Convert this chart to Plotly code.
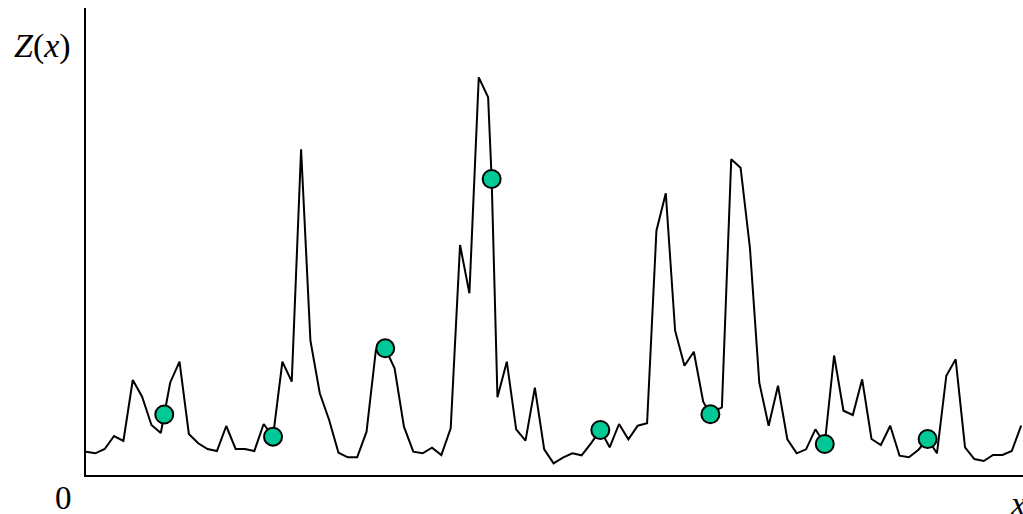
import plotly.graph_objects as go

# Sampled field Z(x) on a regular grid x = 0, 1, ..., 100
z_grid = [
    0.233, 0.217, 0.260, 0.390, 0.340, 0.950, 0.783, 0.500, 0.420, 0.923,
    1.133, 0.410, 0.317, 0.260, 0.240, 0.490, 0.260, 0.260, 0.240, 0.510,
    0.383, 1.133, 0.933, 3.257, 1.343, 0.817, 0.550, 0.223, 0.177, 0.177,
    0.433, 1.250, 1.267, 1.067, 0.483, 0.233, 0.217, 0.273, 0.200, 0.467,
    2.300, 1.817, 3.977, 3.777, 0.777, 1.133, 0.457, 0.343, 0.873, 0.257,
    0.117, 0.173, 0.217, 0.197, 0.317, 0.450, 0.277, 0.510, 0.357, 0.493,
    0.517, 2.443, 2.817, 1.443, 1.093, 1.233, 0.733, 0.630, 0.677, 3.157,
    3.073, 2.270, 0.923, 0.493, 0.893, 0.357, 0.217, 0.257, 0.457, 0.310,
    1.195, 0.643, 0.600, 0.957, 0.360, 0.300, 0.493, 0.193, 0.177, 0.250,
    0.360, 0.217, 0.993, 1.157, 0.277, 0.160, 0.140, 0.200, 0.200, 0.240,
    0.493,
]
x_grid = list(range(len(z_grid)))

# Observed points (lie on the field)
x_obs = [8.37, 20.0, 32.0, 43.38, 55.0, 66.77, 79.0, 90.0]
z_obs = [0.605, 0.383, 1.267, 2.960, 0.450, 0.607, 0.310, 0.360]

# The drawn path passes through the grid samples and the observations
pts = {x: z for x, z in zip(x_grid, z_grid)}
for x, z in zip(x_obs, z_obs):
    pts[x] = z
x_line = sorted(pts)
z_line = [pts[x] for x in x_line]

fig = go.Figure()
fig.add_trace(go.Scatter(
    x=x_line, y=z_line, mode="lines",
    line=dict(color="black", width=2),
    hoverinfo="skip", showlegend=False,
))
fig.add_trace(go.Scatter(
    x=x_obs, y=z_obs, mode="markers",
    marker=dict(size=18, color="#00C896", line=dict(color="black", width=2)),
    showlegend=False,
))

serif = "Liberation Serif, Times New Roman, serif"
fig.update_layout(
    width=1023, height=514,
    margin=dict(l=86, r=0, t=8, b=39),
    paper_bgcolor="white", plot_bgcolor="white",
    xaxis=dict(range=[0, 100.2], showline=True, linecolor="black", linewidth=1.5,
               showgrid=False, zeroline=False, showticklabels=False, ticks=""),
    yaxis=dict(range=[0, 4.67], showline=True, linecolor="black", linewidth=1.5,
               showgrid=False, zeroline=False, showticklabels=False, ticks=""),
    annotations=[
        dict(text="<i>Z</i>(<i>x</i>)", xref="paper", yref="paper",
             x=-0.046, y=0.918, xanchor="center", yanchor="middle",
             showarrow=False, font=dict(family=serif, size=34, color="black")),
        dict(text="0", xref="paper", yref="paper",
             x=-0.0245, y=-0.049, xanchor="center", yanchor="middle",
             showarrow=False, font=dict(family=serif, size=33, color="black")),
        dict(text="<i>x</i>", xref="paper", yref="paper",
             x=0.9845, y=-0.062, xanchor="left", yanchor="middle",
             showarrow=False, font=dict(family=serif, size=33, color="black")),
    ],
)

fig.write_html("out.html")
